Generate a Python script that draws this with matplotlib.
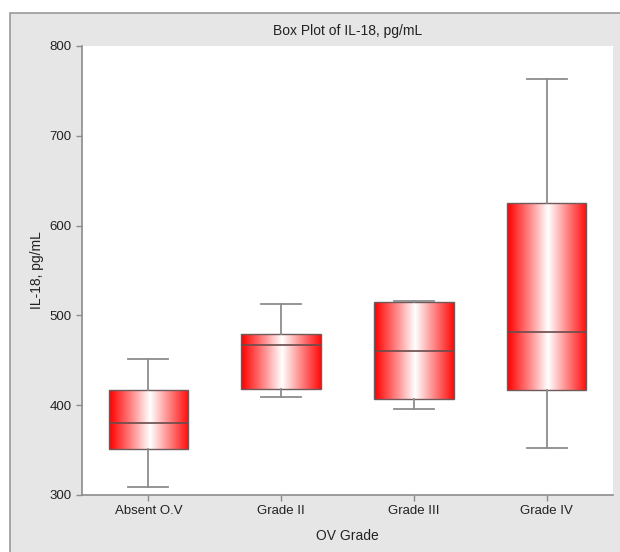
import numpy as np
import matplotlib
matplotlib.use("Agg")
import matplotlib.pyplot as plt
from matplotlib.patches import Rectangle
from matplotlib.colors import LinearSegmentedColormap

plt.rcParams['font.family'] = ['Liberation Sans', 'DejaVu Sans']

categories = ["Absent O.V", "Grade II", "Grade III", "Grade IV"]
whisker_low = [309, 409, 396, 352]
q1 = [351, 418, 407, 417]
median = [380, 467, 460, 481]
q3 = [417, 479, 515, 625]
whisker_high = [451, 513, 516, 763]
y_ticks = [300, 400, 500, 600, 700, 800]

fig = plt.figure(figsize=(6.2, 5.52), dpi=100)
fig.patch.set_facecolor("white")

# light gray panel behind the plot
panel = Rectangle((10 / 620, -0.05), 1.0, 1 - 13 / 552 + 0.05,
                  transform=fig.transFigure, facecolor="#e6e6e6",
                  edgecolor="#9a9a9a", linewidth=1.2, zorder=-10)
fig.patches.append(panel)

ax = fig.add_axes([82 / 620, 1 - 495 / 552, (613 - 82) / 620, (495 - 46) / 552])
ax.set_zorder(1)
ax.set_facecolor("white")

stats = []
for i, name in enumerate(categories):
    stats.append(dict(label=name, whislo=whisker_low[i], q1=q1[i], med=median[i],
                      q3=q3[i], whishi=whisker_high[i], fliers=[]))

positions = np.arange(1, len(categories) + 1)
bp = ax.bxp(stats, positions=positions, widths=0.6, patch_artist=True,
            showfliers=False,
            boxprops=dict(facecolor="none", edgecolor="#6e5a5a", linewidth=1.0),
            medianprops=dict(color="#6a4c4c", linewidth=1.2),
            whiskerprops=dict(color="#8c8c8c", linewidth=1.3),
            capprops=dict(color="#8c8c8c", linewidth=1.3),
            capwidths=0.3)

# cylinder-like red/white shading inside each box
xs = np.linspace(-1, 1, 256) - 0.03
shade = np.clip(np.abs(xs), 0, 1)
cmap = LinearSegmentedColormap.from_list("redwhite", [(1, 1, 1), (1, 0.5, 0.5), (1, 0.02, 0.02)])
grad = shade[np.newaxis, :]
for i, box in enumerate(bp["boxes"]):
    x0 = positions[i] - 0.3
    x1 = positions[i] + 0.3
    im = ax.imshow(grad, cmap=cmap, vmin=0, vmax=1, aspect="auto",
                   extent=(x0, x1, q1[i], q3[i]), zorder=1.5, interpolation="bilinear")
    im.set_clip_path(box)
    box.set_zorder(2)

for ln in bp["medians"]:
    ln.set_zorder(3)

ax.set_xlim(0.5, 4.5)
ax.set_ylim(300, 800)
ax.set_yticks(y_ticks)
ax.set_xticks(positions)
ax.set_xticklabels(categories)

for side in ("top", "right"):
    ax.spines[side].set_visible(False)
for side in ("left", "bottom"):
    ax.spines[side].set_color("#8c8c8c")
    ax.spines[side].set_linewidth(1.2)
ax.tick_params(axis="both", colors="#8c8c8c", labelcolor="#222222",
               labelsize=9.5, length=4, width=1.0)

ax.set_title("Box Plot of IL-18, pg/mL", fontsize=10, color="#222222", pad=8)
ax.set_xlabel("OV Grade", fontsize=10, color="#222222", labelpad=8)
ax.set_ylabel("IL-18, pg/mL", fontsize=10, color="#222222", labelpad=4)

fig.savefig("out.png", dpi=100, facecolor=fig.get_facecolor())
